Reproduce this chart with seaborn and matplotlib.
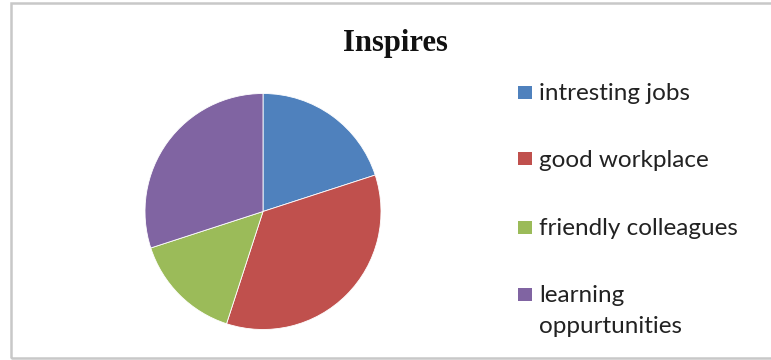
import matplotlib
matplotlib.use("Agg")
import matplotlib.pyplot as plt
from matplotlib.patches import Rectangle
import seaborn as sns

# Survey answers: what inspires people at work
categories = ["intresting jobs", "good workplace", "friendly colleagues", "learning\noppurtunities"]
shares = [20, 35, 15, 30]
colors = ["#4F81BD", "#C0504D", "#9BBB59", "#8064A2"]
title = "Inspires"

sns.set_theme(style="white")
palette = sns.color_palette(colors)

W, H = 771, 360
fig = plt.figure(figsize=(W / 100, H / 100), dpi=100)
fig.patch.set_facecolor("white")


def fx(px):
    return px / W


def fy(py):
    return 1 - py / H


# light grey chart-area frame
fig.add_artist(Rectangle((fx(11), fy(358)), 1.0, 355 / H,
                         transform=fig.transFigure, fill=False,
                         edgecolor="#C8C8C8", linewidth=1.8, zorder=0))

ax = fig.add_axes([fx(145), 30.5 / H, 236 / W, 236 / H])
wedges, _ = ax.pie(shares, colors=palette, startangle=90, counterclock=False,
                   radius=1.0, wedgeprops=dict(linewidth=0.6, edgecolor="white"))
ax.set_xlim(-1.0, 1.0)
ax.set_ylim(-1.0, 1.0)
ax.set_aspect("equal")
ax.axis("off")

fig.text(fx(395), fy(44), title, ha="center", va="center",
         fontsize=22, fontweight="bold", family="Liberation Serif", color="#111111")

# legend: colour key squares with labels to their right; wrapped labels
# continue on lines below the first one
key_rows = [92, 159, 227, 294]
line_step = 31
for wedge, label, yc in zip(wedges, categories, key_rows):
    fig.add_artist(Rectangle((fx(518), fy(yc + 6.5)), 14 / W, 13 / H,
                             transform=fig.transFigure,
                             facecolor=wedge.get_facecolor(), edgecolor="none"))
    for i, line in enumerate(label.split("\n")):
        fig.text(fx(539), fy(yc + 8 + i * line_step), line, ha="left", va="baseline",
                 fontsize=17.5, family="Lato", color="#222222")

fig.savefig("out.png", dpi=100, facecolor="white")
